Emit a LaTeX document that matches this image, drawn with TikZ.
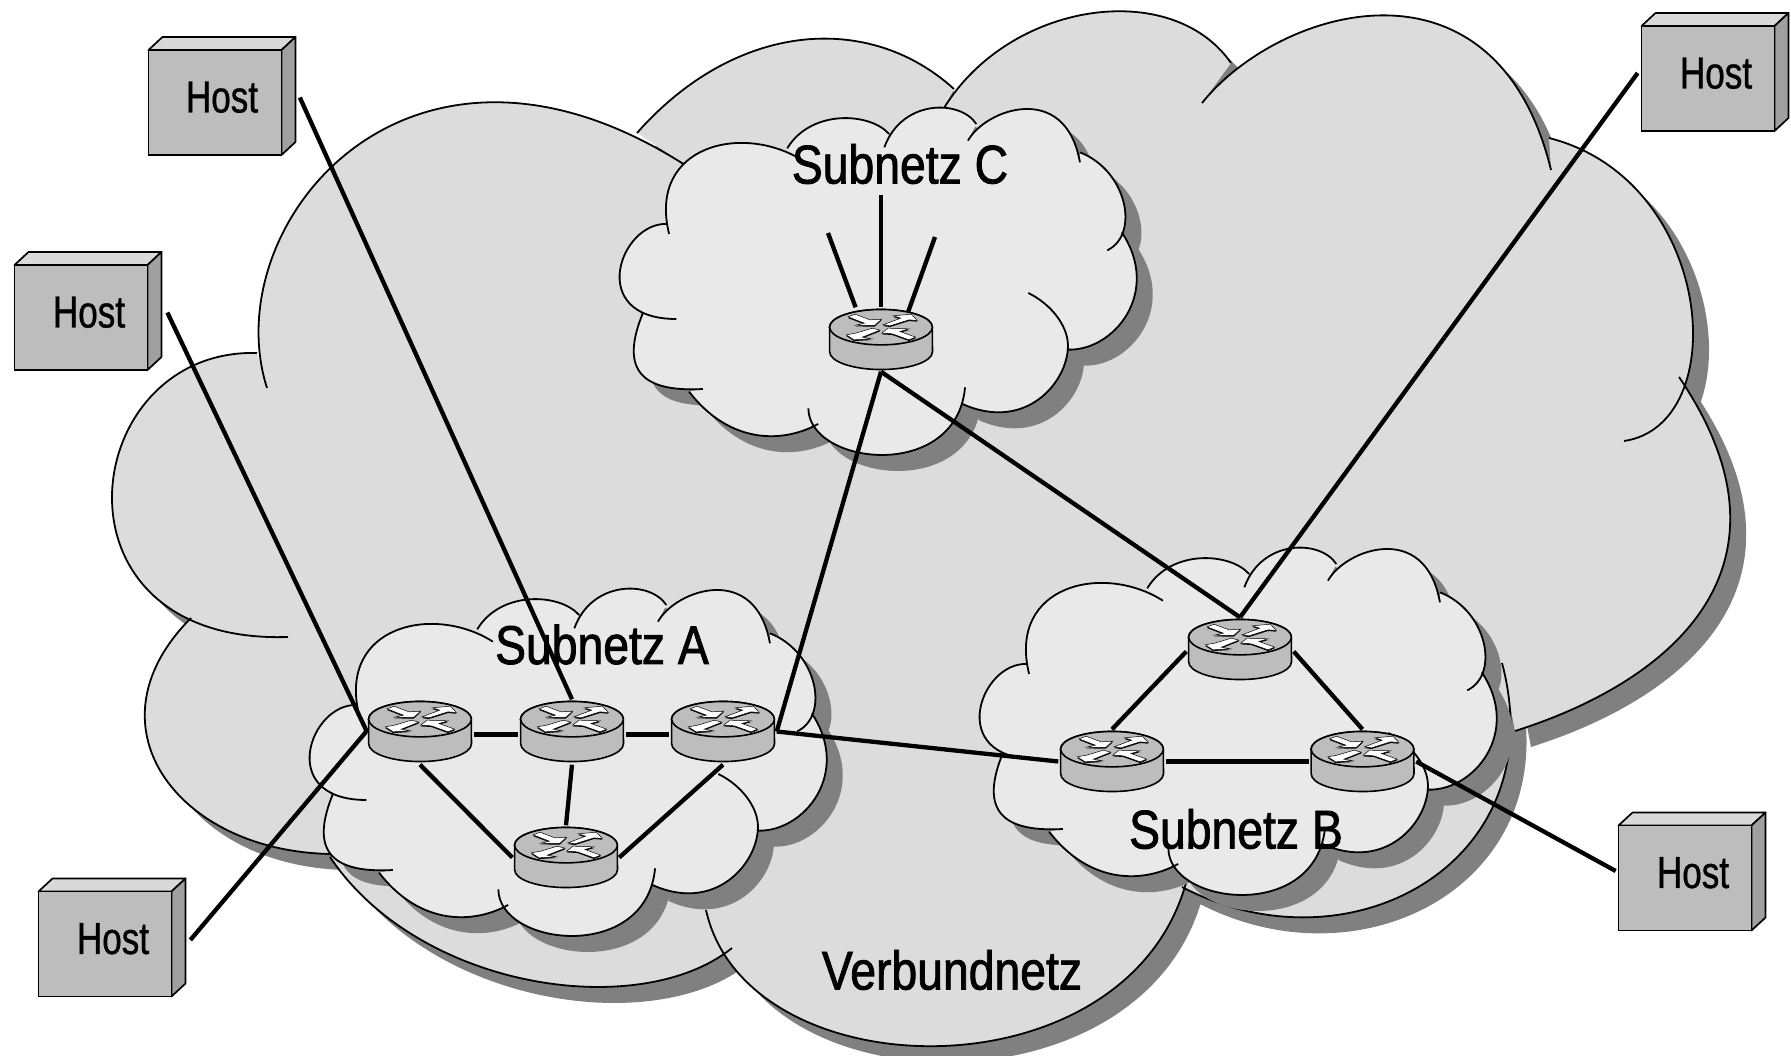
\documentclass[tikz,border=0pt]{standalone}
\usepackage{fontspec}
\setmainfont{Liberation Sans}
\newfontfamily\hostfont[FakeStretch=0.78,FakeBold=0.8]{Liberation Sans}
\newfontfamily\netfont[FakeStretch=0.85,FakeBold=1.5]{Liberation Sans}
\definecolor{bigfill}{HTML}{DCDCDC}
\definecolor{subfill}{HTML}{E9E9E9}
\definecolor{shadowgray}{HTML}{808080}
\definecolor{devgray}{HTML}{BDBDBD}
\definecolor{hosttop}{HTML}{D9D9D9}
\definecolor{hostside}{HTML}{A0A0A0}
\newcommand\lobejoin{}
\newcommand\bigoutline{%
 (339,854) .. controls (182,856) and (81,728) .. (191,618)
 \lobejoin (288,637) .. controls (40,645) and (77,348) .. (257,353)
 \lobejoin (267,388) .. controls (215,225) and (408,-12) .. (685,165)
 \lobejoin (637,133) .. controls (735,22) and (868,11) .. (954,89)
 \lobejoin (944,108) .. controls (1010,1) and (1172,-22) .. (1231,63)
 \lobejoin (1202,103) .. controls (1280,6) and (1496,-56) .. (1551,170)
 \lobejoin (1549,138) .. controls (1715,180) and (1734,425) .. (1624,441)
 \lobejoin (1679,377) .. controls (1806,564) and (1676,680) .. (1515,731)
 \lobejoin (1502,663) .. controls (1555,863) and (1350,975) .. (1182,887)
 \lobejoin (1186,883) .. controls (1125,1100) and (746,1092) .. (706,910)
 \lobejoin (732,948) .. controls (640,1022) and (419,990) .. (330,857)
}
\newcommand\suboutline{%
 (1004,895) .. controls (980,1180) and (574,1130) .. (573,958)
 \lobejoin (600,1005) .. controls (490,1070) and (348,1055) .. (245,908)
 \lobejoin (283,900) .. controls (102,911) and (58,832) .. (118,672)
 \lobejoin (210,690) .. controls (-40,690) and (55,398) .. (185,405)
 \lobejoin (190,435) .. controls (130,168) and (394,101) .. (558,215)
 \lobejoin (515,178) .. controls (580,60) and (743,70) .. (795,135)
 \lobejoin (782,175) .. controls (830,30) and (991,31) .. (1035,105)
 \lobejoin (1012,155) .. controls (1060,60) and (1280,-25) .. (1320,220)
 \lobejoin (1320,190) .. controls (1450,245) and (1485,437) .. (1395,484)
 \lobejoin (1435,430) .. controls (1545,610) and (1414,786) .. (1287,782)
 \lobejoin (1178,612) .. controls (1240,645) and (1287,710) .. (1287,770) .. controls (1287,880) and (1170,1030) .. (997,945)
}
\newcommand\subcloud[2]{%
 \begin{scope}[shift={(#1pt+16pt,-#2pt-16pt)},x=.3636pt,y=-.33333pt]
  \renewcommand\lobejoin{--}\fill[shadowgray] \suboutline;
 \end{scope}
 \begin{scope}[shift={(#1pt,-#2pt)},x=.3636pt,y=-.33333pt]
  \renewcommand\lobejoin{--}\fill[subfill] \suboutline;
  \renewcommand\lobejoin{}\draw[cloudline] \suboutline;
 \end{scope}}
\tikzset{
 cloudline/.style={line width=1.8pt,black,line join=round},
 link/.style={line width=4.3pt,black},
 hostbox/.style={draw=black,line width=1.7pt,fill=devgray,minimum width=133pt,minimum height=105pt,inner sep=0pt,font=\hostfont\fontsize{45pt}{45pt}\selectfont},
 routerbox/.style={minimum width=103pt,minimum height=60pt,inner sep=0pt},
 nettext/.style={inner sep=0pt,font=\netfont\fontsize{54.5pt}{54.5pt}\selectfont},
 hostfaces/.pic={
  \draw[line width=1.7pt,fill=hosttop,line join=round] (-66.5,-52.5)--(-52.5,-65.5)--(80.5,-65.5)--(66.5,-52.5)--cycle;
  \draw[line width=1.7pt,fill=hostside,line join=round] (66.5,-52.5)--(80.5,-65.5)--(80.5,39.5)--(66.5,52.5)--cycle;
 },
 routerart/.pic={
  \begin{scope}[x=.33333pt,y=-.33333pt]
   \draw[line width=1.6pt,fill=devgray] (-154,-37)--(-154,37) arc[start angle=180,end angle=360,x radius=51.4pt,y radius=17.7pt]--(154,-37) arc[start angle=0,end angle=180,x radius=51.4pt,y radius=17.7pt]--cycle;
   \draw[line width=1.6pt,fill=devgray] (0,-37) ellipse[x radius=51.4pt,y radius=17.7pt];
   \foreach \arrowpts in {0,1}{
    \ifnum\arrowpts=0 \tikzset{arrowstyle/.style={fill=black,yshift=-1.2pt}}\else \tikzset{arrowstyle/.style={fill=white,draw=black,line width=.5pt}}\fi
    \path[arrowstyle] (-99,-68)--(-78,-76)--(-33,-59)--(2,-61)--(-19,-42)--(-76,-43)--(-50,-49)--cycle;
    \path[arrowstyle] (6,-44)--(59,-64)--(37,-71)--(91,-76)--(109,-57)--(84,-59)--(27,-41)--cycle;
    \path[arrowstyle] (-26,-34)--(-3,-28)--(-56,-7)--(-29,-2)--(-81,1)--(-104,-14)--(-76,-19)--cycle;
    \path[arrowstyle] (2,-19)--(21,-34)--(84,-32)--(57,-24)--(104,-7)--(84,1)--(34,-17)--cycle;
   }
  \end{scope}
 }
}
\begin{document}
\begin{tikzpicture}[x=1pt,y=-1pt]
\useasboundingbox (0,0) rectangle (1791,1056);
% big cloud
\begin{scope}[xshift=16pt,yshift=-16pt]
 \renewcommand\lobejoin{--}\fill[shadowgray] \bigoutline;
\end{scope}
\renewcommand\lobejoin{--}\fill[bigfill] \bigoutline;
\renewcommand\lobejoin{}\draw[cloudline] \bigoutline;
% sub clouds
\subcloud{600}{89}
\subcloud{290}{570}
\subcloud{960}{529}
% hosts
\pic at (215,102.5) {hostfaces};
\pic at (81,317.5) {hostfaces};
\pic at (105,944) {hostfaces};
\pic at (1708,78.5) {hostfaces};
\pic at (1685,878) {hostfaces};
\node[hostbox] (h1) at (215,102.5) {\raisebox{11pt}{\kern14pt Host}};
\node[hostbox] (h2) at (81,317.5) {\raisebox{11pt}{\kern16pt Host}};
\node[hostbox] (h3) at (105,944) {\raisebox{11pt}{\kern16pt Host}};
\node[hostbox] (h4) at (1708,78.5) {\raisebox{11pt}{\kern16pt Host}};
\node[hostbox] (h5) at (1685,878) {\raisebox{11pt}{\kern16pt Host}};
% routers
\node[routerbox] (r1) at (420,731.5) {};
\node[routerbox] (r2) at (572,731.5) {};
\node[routerbox] (r3) at (723,731.5) {};
\node[routerbox] (r4) at (566,857.5) {};
\node[routerbox] (b1) at (1240,649.5) {};
\node[routerbox] (b2) at (1112,761.5) {};
\node[routerbox] (b3) at (1362.5,761.5) {};
\node[routerbox] (c1) at (881,339.5) {};
\foreach \rn in {r1,r2,r3,r4,b1,b2,b3,c1} \pic at (\rn) {routerart};
% free ends
\coordinate (cl) at (828,233);
\coordinate (cm) at (881,195);
\coordinate (cr) at (935,237);
% labels
\node[nettext] (la) at (602,644.5) {Subnetz A};
\node[nettext] (lb) at (1236,829) {Subnetz B};
\node[nettext] (lc) at (900,164) {Subnetz C};
\node[nettext] (lv) at (952,970) {Verbundnetz};
% connectors
\draw[link] ([shift={(17.5pt,5pt)}]h1.east) -- ([yshift=2pt]r2.north);
\draw[link] ([shift={(19pt,5pt)}]h2.east) -- ([shift={(-1pt,-1pt)}]r1.west);
\draw[link] ([shift={(18pt,4pt)}]h3.east) -- ([shift={(-2pt,0pt)}]r1.west);
\draw[link,shorten <=2pt,shorten >=2pt] ([yshift=-3pt]r1.east) -- ([yshift=-3pt]r2.west);
\draw[link,shorten <=2pt,shorten >=2pt] ([yshift=-3pt]r2.east) -- ([yshift=-3pt]r3.west);
\draw[link] ([yshift=-3pt]r1.south) -- ([xshift=-2pt]r4.west);
\draw[link] ([yshift=-3pt]r2.south) -- ([yshift=2pt]r4.north);
\draw[link] ([yshift=-3pt]r3.south) -- ([xshift=1.5pt]r4.east);
\draw[link] ([xshift=2pt]r3.east) -- ([yshift=-2pt]c1.south);
\draw[link] ([yshift=-2pt]c1.south) -- ([yshift=2pt]b1.north);
\draw[link] ([xshift=2pt]r3.east) -- ([xshift=-2pt]b2.west);
\draw[link] ([shift={(-3pt,5.5pt)}]h4.west) -- ([yshift=2pt]b1.north);
\draw[link] ([shift={(-2pt,-2pt)}]b1.west) -- ([yshift=2pt]b2.north);
\draw[link] ([shift={(2pt,-2pt)}]b1.east) -- ([yshift=2pt]b3.north);
\draw[link] ([xshift=2pt]b2.east) -- ([xshift=-2pt]b3.west);
\draw[link] ([xshift=2pt]b3.east) -- ([shift={(-2pt,7pt)}]h5.west);
\draw[link] (cl) -- ([shift={(-25.4pt,2pt)}]c1.north);
\draw[link] (cm) -- ([yshift=2pt]c1.north);
\draw[link] (cr) -- ([shift={(27pt,-3pt)}]c1.north);
\end{tikzpicture}
\end{document}
